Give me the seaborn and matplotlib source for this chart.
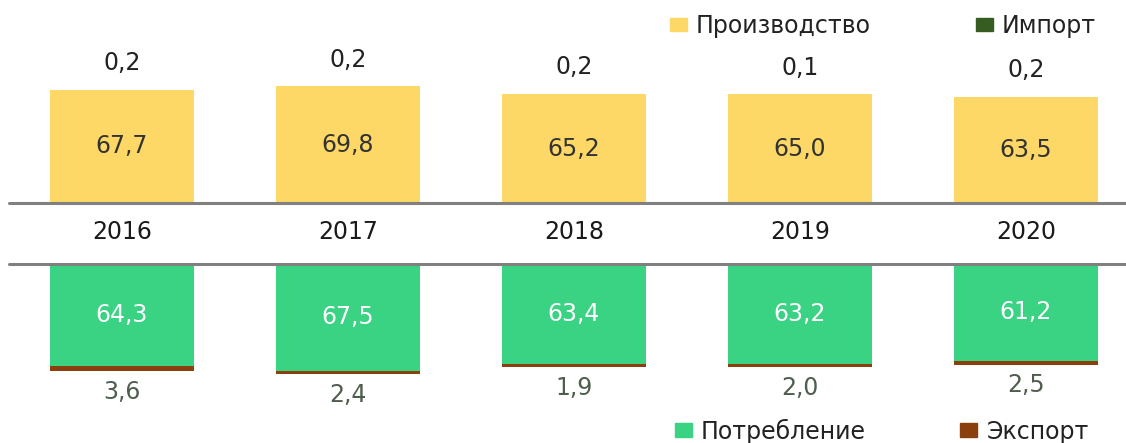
import matplotlib
matplotlib.use('Agg')
import matplotlib.pyplot as plt
import seaborn as sns
import pandas as pd
from matplotlib.patches import Patch
from matplotlib.lines import Line2D

years = ['2016', '2017', '2018', '2019', '2020']
production = [67.7, 69.8, 65.2, 65.0, 63.5]
imports = [0.2, 0.2, 0.2, 0.1, 0.2]
consumption = [64.3, 67.5, 63.4, 63.2, 61.2]
exports = [3.6, 2.4, 1.9, 2.0, 2.5]

YELLOW = '#FDD866'
IMP = '#365C22'
GREEN = '#3AD283'
BROWN = '#8B3F0D'
GRAY = '#808080'

sns.set_theme(style='white')
plt.rcParams['font.family'] = ['DejaVu Sans']

df = pd.DataFrame({
    'year': years,
    'production': production,
    'top_total': [p + i for p, i in zip(production, imports)],
    'consumption': consumption,
    'bot_total': [c + e for c, e in zip(consumption, exports)],
})

W, H = 1126, 443
fig = plt.figure(figsize=(W / 100, H / 100), dpi=100)
ax_top = fig.add_axes([0, (H - 203) / H, 1, 203 / H])
ax_bot = fig.add_axes([0, 0, 1, (H - 264) / H])

bw = 0.64
sns.barplot(data=df, x='year', y='top_total', color=IMP, width=bw, saturation=1,
            errorbar=None, linewidth=0, ax=ax_top)
sns.barplot(data=df, x='year', y='production', color=YELLOW, width=bw, saturation=1,
            errorbar=None, linewidth=0, ax=ax_top)
sns.barplot(data=df, x='year', y='bot_total', color=BROWN, width=bw, saturation=1,
            errorbar=None, linewidth=0, ax=ax_bot)
sns.barplot(data=df, x='year', y='consumption', color=GREEN, width=bw, saturation=1,
            errorbar=None, linewidth=0, ax=ax_bot)

xl = (-122 / 226, (W - 122) / 226)
ax_top.set_xlim(*xl)
ax_bot.set_xlim(*xl)
ax_top.set_ylim(0, 203 / 1.67)
ax_bot.set_ylim(179 / 1.58, 0)
for ax in (ax_top, ax_bot):
    ax.axis('off')

fmt = lambda v: f"{v:.1f}".replace('.', ',')
FS = 17
for i, (p, im) in enumerate(zip(production, imports)):
    ax_top.text(i, p / 2, fmt(p), ha='center', va='center', fontsize=FS, color='#333333')
    ax_top.annotate(fmt(im), xy=(i, p + im), xytext=(0, 19), textcoords='offset points',
                    ha='center', va='center', fontsize=FS, color='#222222',
                    annotation_clip=False)
    ax_top.text(i, (203 - 232) / 203, years[i], transform=ax_top.get_xaxis_transform(),
                ha='center', va='center', fontsize=FS, color='#1a1a1a', clip_on=False)

for i, (c, e) in enumerate(zip(consumption, exports)):
    ax_bot.text(i, c / 2, fmt(c), ha='center', va='center', fontsize=FS, color='white')
    ax_bot.annotate(fmt(e), xy=(i, c + e), xytext=(0, -15), textcoords='offset points',
                    ha='center', va='center', fontsize=FS, color='#4d5e4d',
                    annotation_clip=False)

for ypx in (203, 264):
    fig.add_artist(Line2D([9 / W, 1], [(H - ypx) / H] * 2, color=GRAY, lw=2.2))

leg_kw = dict(ncol=2, frameon=False, fontsize=FS, handlelength=0.72, handleheight=0.5,
              handletextpad=0.38, borderpad=0, borderaxespad=0,
              loc='center left', labelcolor='#222222')
fig.legend(handles=[Patch(color=YELLOW, label='Производство'),
                    Patch(color=IMP, label='Импорт')],
           bbox_to_anchor=(670 / W, (H - 26) / H), columnspacing=4.45, **leg_kw)
fig.legend(handles=[Patch(color=GREEN, label='Потребление'),
                    Patch(color=BROWN, label='Экспорт')],
           bbox_to_anchor=(675 / W, (H - 431) / H), columnspacing=4.0, **leg_kw)

fig.savefig('out.png', dpi=100)
